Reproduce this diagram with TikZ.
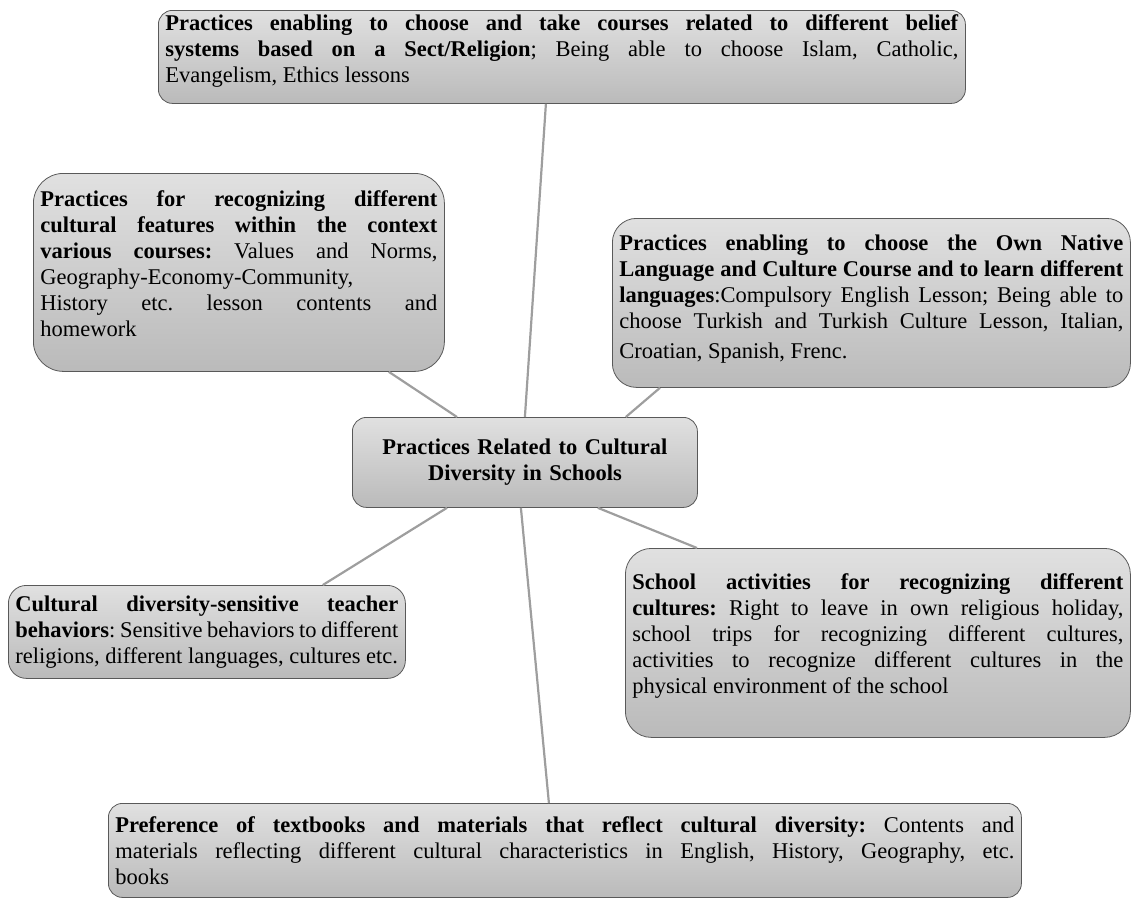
\documentclass[tikz,border=0pt]{standalone}
\usepackage{fontspec}
\setmainfont{Liberation Serif}
\frenchspacing
\hyphenpenalty=10000
\exhyphenpenalty=10000

\newcommand{\lift}[1]{\rule[-#1]{0pt}{1pt}}

\tikzset{
  practice/.style={draw=black!65, line width=0.8pt, top color=black!12, bottom color=black!27,
    anchor=north west, inner xsep=7pt, inner ysep=0pt, align=justify,
    font=\fontsize{22.5}{26}\selectfont},
  link/.style={draw=black!38, line width=2.2pt}
}

\begin{document}
\begin{tikzpicture}[x=1pt, y=-1pt]
        \useasboundingbox (0,0) rectangle (1132,903);

        % Belief systems (top)
            \node[practice, rounded corners=14pt, text width=793pt, minimum height=93pt] (religion) at (158,10)
            {\textbf{Practices enabling to choose and take courses related to different belief}\linebreak
             \textbf{systems based on a Sect/Religion}; Being able to choose Islam, Catholic,\linebreak
             Evangelism, Ethics lessons\lift{17pt}};

            % Various courses (upper left)
            \node[practice, rounded corners=30pt, text width=397pt, minimum height=198pt] (courses) at (33,173)
            {\textbf{Practices for recognizing different}\linebreak
             \textbf{cultural features within the context}\linebreak
             \textbf{various courses:} Values and Norms,\linebreak
             Geography-Economy-Community,\\
             History etc. lesson contents and\linebreak
             homework\lift{18pt}};

            % Native language (upper right)
            \node[practice, rounded corners=24pt, text width=504pt, minimum height=169pt] (language) at (612,218)
            {\textbf{Practices enabling to choose the Own Native}\linebreak
             \textbf{Language and Culture Course and to learn different}\linebreak
             \textbf{languages}:Compulsory English Lesson; Being able to\linebreak
             choose Turkish and Turkish Culture Lesson, Italian,\linebreak
             \rule{0pt}{25pt}Croatian, Spanish, Frenc.\lift{12pt}};

            % Centre
            \node[practice, rounded corners=14pt, text width=331pt, minimum height=90pt, align=center] (centre) at (352,417)
            {\textbf{Practices Related to Cultural}\\ \textbf{Diversity in Schools}};

            % Teacher behaviors (lower left)
            \node[practice, rounded corners=18pt, text width=383pt, minimum height=93pt] (teacher) at (8,585)
            {\textbf{Cultural diversity-sensitive teacher}\linebreak
             \textbf{behaviors}: Sensitive behaviors to different\linebreak
             religions, different languages, cultures etc.};

            % School activities (lower right)
            \node[practice, rounded corners=26pt, text width=491pt, minimum height=189pt] (activities) at (625,548)
            {\textbf{School activities for recognizing different}\linebreak
             \textbf{cultures:} Right to leave in own religious holiday,\linebreak
             school trips for recognizing different cultures,\linebreak
             activities to recognize different cultures in the\linebreak
             physical environment of the school\lift{18pt}};

            % Textbooks (bottom)
            \node[practice, rounded corners=14pt, text width=899pt, minimum height=94pt] (textbooks) at (108,803)
            {\textbf{Preference of textbooks and materials that reflect cultural diversity:} Contents and\linebreak
             materials reflecting different cultural characteristics in English, History, Geography, etc.\linebreak
             books};

        % Connectors
            \draw[link] ([xshift=-16pt]religion.south) -- (centre.north);
            \draw[link] ([xshift=-56pt]courses.south east) -- ([xshift=105pt]centre.north west);
            \draw[link] ([xshift=48pt]language.south west) -- ([xshift=-72pt]centre.north east);
            \draw[link] ([xshift=95pt]centre.south west) -- ([xshift=-83pt]teacher.north east);
            \draw[link] ([xshift=-100pt]centre.south east) -- ([xshift=72pt]activities.north west);
            \draw[link] ([xshift=-4pt]centre.south) -- ([xshift=-16pt]textbooks.north);

    \end{tikzpicture}
\end{document}
